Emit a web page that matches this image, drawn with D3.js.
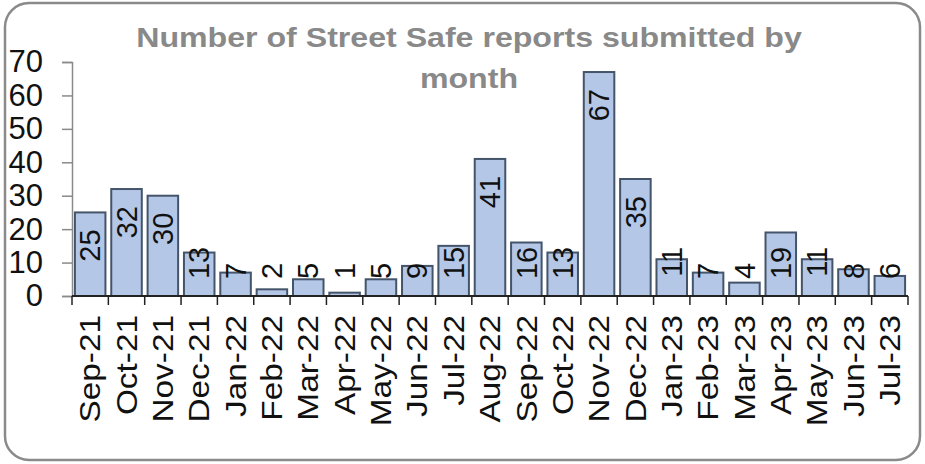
<!DOCTYPE html>
<html lang="en">
<head>
    <meta charset="UTF-8">
    <title>Street Safe reports</title>
    <script src="https://d3js.org/d3.v7.min.js"></script>
    <style>
        body { margin: 0; background: white; }
        text { font-family: "Liberation Sans", Arial, sans-serif; }
        .bar { fill: #b4c7e7; stroke: #44546a; stroke-width: 2; }
        .title { fill: #898989; font-weight: bold; font-size: 27px; }
    </style>
</head>
<body>
<script>
    const width  = 925;
    const height = 464;

    const months = ["Sep-21","Oct-21","Nov-21","Dec-21","Jan-22","Feb-22","Mar-22","Apr-22",
                    "May-22","Jun-22","Jul-22","Aug-22","Sep-22","Oct-22","Nov-22","Dec-22",
                    "Jan-23","Feb-23","Mar-23","Apr-23","May-23","Jun-23","Jul-23"];
    const reports = [25, 32, 30, 13, 7, 2, 5, 1, 5, 9, 15, 41, 16, 13, 67, 35, 11, 7, 4, 19, 11, 8, 6];
    const yTicks = [0, 10, 20, 30, 40, 50, 60, 70];
    const titleLines = ["Number of Street Safe reports submitted by", "month"];

    const svg = d3.select("body").append("svg").attr("width", width).attr("height", height);

    // frame
    svg.append("rect")
        .attr("x", 5).attr("y", 3).attr("width", 915).attr("height", 457)
        .attr("rx", 24).attr("ry", 24)
        .style("fill", "white").style("stroke", "#8a8a8a").style("stroke-width", 2.5);

    const x = d3.scaleBand().domain(months).range([72, 908]).paddingInner(0.16).paddingOuter(0.08);
    const y = d3.scaleLinear().domain([0, 70]).range([296, 62]);

    // title (the original text is drawn a bit wide)
    svg.selectAll("text.title")
        .data(titleLines)
        .join("text").attr("class", "title")
        .attr("transform", (d, i) => `translate(469,${47 + i * 41}) scale(1.19,1)`)
        .attr("text-anchor", "middle")
        .text(d => d);

    // y axis
    const yAxis = svg.append("g")
        .attr("transform", "translate(72,0)")
        .call(d3.axisLeft(y).tickValues(yTicks).tickSize(10).tickPadding(19));
    yAxis.select(".domain").style("stroke", "#8a8a8a").style("stroke-width", 1.5);
    yAxis.selectAll(".tick line").style("stroke", "#8a8a8a").style("stroke-width", 1.5);
    yAxis.selectAll(".tick text")
        .style("font-size", "31px").style("fill", "#111")
        .style("font-family", "'Liberation Sans', Arial, sans-serif");

    // bars
    svg.selectAll("rect.bar")
        .data(reports)
        .join("rect").attr("class", "bar")
        .attr("x", (d, i) => x(months[i]))
        .attr("y", d => y(d))
        .attr("width", x.bandwidth())
        .attr("height", d => y(0) - y(d));

    // x axis: line and ticks between categories
    const step = x.step();
    const bounds = d3.range(months.length + 1).map(i => 72 + i * step);
    svg.append("line")
        .attr("x1", 72).attr("x2", 908).attr("y1", y(0)).attr("y2", y(0))
        .style("stroke", "#222").style("stroke-width", 2);
    svg.selectAll("line.xtick")
        .data(bounds)
        .join("line").attr("class", "xtick")
        .attr("x1", d => d).attr("x2", d => d)
        .attr("y1", y(0)).attr("y2", y(0) + 9)
        .style("stroke", "#222").style("stroke-width", 1.5);

    svg.selectAll("text.xlabel")
        .data(months)
        .join("text").attr("class", "xlabel")
        .attr("transform", d => `translate(${x(d) + x.bandwidth() / 2},${y(0) + 19}) rotate(-90) scale(1.15,1)`)
        .attr("text-anchor", "end")
        .attr("dy", "0.35em")
        .style("font-size", "29px").style("fill", "#111")
        .text(d => d);

    // value labels, rotated; kept off the axis for short bars
    const labelSize = 29;
    svg.selectAll("text.value")
        .data(reports)
        .join("text").attr("class", "value")
        .attr("transform", (d, i) => {
            const len = String(d).length * labelSize * 0.556;
            const top = Math.min(y(d) + 17, 279 - len);
            return `translate(${x(months[i]) + x.bandwidth() / 2},${top}) rotate(-90)`;
        })
        .attr("text-anchor", "end")
        .attr("dy", "0.35em")
        .style("font-size", labelSize + "px").style("fill", "#111")
        .text(d => d);
</script>
</body>
</html>
